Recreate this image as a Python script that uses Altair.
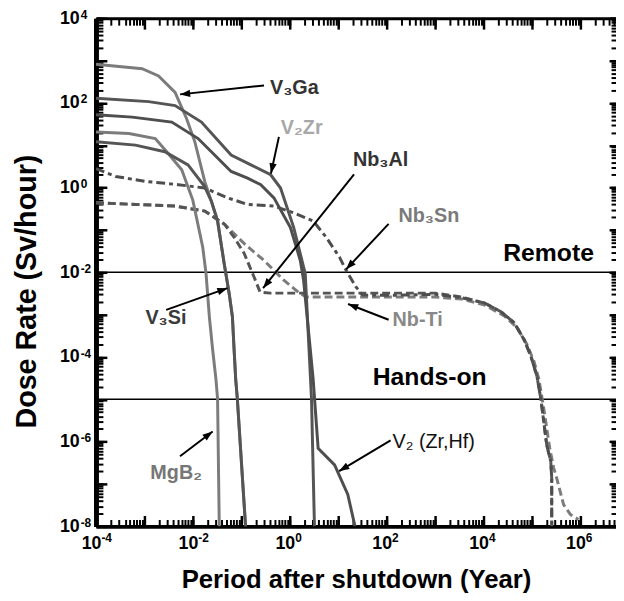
import altair as alt
import pandas as pd
import numpy as np

# ---------------- data (log10 exponents) ----------------
v3ga_x = [-4.0, -3.047, -2.708, -2.367, -2.129, -1.959, -1.755, -1.619, -1.490, -1.353, -1.251, -1.184, -1.149, -1.116, -1.082, -0.912]
v3ga_y = [2.914, 2.809, 2.639, 2.249, 1.626, 1.082, 0.148, -0.319, -0.786, -1.797, -2.498, -3.044, -3.822, -4.522, -4.989, -8.0]

v3si_x = [-4.0, -3.184, -2.580, -2.100, -1.760, -1.619, -1.490, -1.353, -1.251, -1.184, -1.149, -1.116, -1.082, -0.912]
v3si_y = [1.082, 1.004, 0.848, 0.537, 0.030, -0.319, -0.786, -1.797, -2.498, -3.044, -3.822, -4.522, -4.989, -8.0]

mgb2_x = [-4.0, -3.320, -2.776, -2.540, -2.230, -2.000, -1.796, -1.728, -1.660, -1.592, -1.524, -1.490, -1.455]
mgb2_y = [1.315, 1.276, 1.159, 0.848, 0.420, -0.300, -1.409, -2.031, -3.044, -3.822, -4.522, -4.989, -8.0]

v2zr_x = [-4.0, -2.912, -2.367, -1.823, -1.210, -0.802, -0.394, -0.190, 0.082, 0.218, 0.320, 0.449, 0.510]
v2zr_y = [2.109, 2.031, 1.938, 1.548, 0.771, 0.537, 0.304, -0.009, -0.943, -1.564, -2.031, -4.989, -8.0]

v2zrhf_x = [-4.0, -3.252, -2.435, -1.892, -1.551, -1.210, -0.871, -0.598, -0.327, 0.014, 0.218, 0.286, 0.483, 0.586, 0.925, 1.198, 1.347]
v2zrhf_y = [1.719, 1.665, 1.548, 1.159, 0.771, 0.381, 0.225, 0.070, -0.242, -0.943, -1.720, -2.187, -4.522, -6.157, -6.546, -7.247, -8.0]

nb3sn_x = [-4.0, -3.592, -2.980, -2.300, -1.755, -1.279, -0.871, -0.327, 0.075, 0.483, 0.755, 1.027, 1.163, 1.367, 1.503, 2.200, 3.000, 3.551, 4.020, 4.367, 4.633, 4.837, 4.980, 5.102, 5.184, 5.306, 5.388, 5.408, 5.408]
nb3sn_y = [0.451, 0.264, 0.148, 0.070, -0.009, -0.242, -0.397, -0.436, -0.593, -0.786, -1.176, -1.643, -1.954, -2.344, -2.538, -2.540, -2.520, -2.600, -2.724, -2.934, -3.191, -3.588, -3.985, -4.452, -4.989, -6.086, -6.460, -6.857, -8.0]

nb3al_x = [-4.0, -3.184, -2.367, -1.755, -1.347, -1.143, -0.939, -0.735, -0.612, -0.400, 3.000, 3.551, 4.020, 4.367, 4.633, 4.837, 4.980, 5.102, 5.184, 5.306, 5.388, 5.408, 5.408]
nb3al_y = [-0.359, -0.397, -0.436, -0.553, -0.864, -1.183, -1.557, -2.117, -2.467, -2.491, -2.491, -2.584, -2.724, -2.934, -3.191, -3.588, -3.985, -4.452, -4.989, -6.086, -6.460, -6.857, -8.0]

nbti_x = [-4.0, -3.184, -2.367, -1.755, -1.347, -0.939, -0.531, -0.122, 0.204, 0.347, 3.000, 3.551, 4.020, 4.429, 4.694, 4.898, 5.041, 5.143, 5.245, 5.367, 5.449, 5.510, 5.653, 5.796, 5.959]
nbti_y = [-0.359, -0.397, -0.436, -0.553, -0.864, -1.323, -1.720, -2.187, -2.491, -2.584, -2.584, -2.631, -2.771, -3.028, -3.308, -3.705, -4.102, -4.522, -5.222, -6.157, -6.623, -6.857, -7.487, -7.721, -7.838]

solid_names = ["V3Ga", "V2Zr", "V2ZrHf", "MgB2", "V3Si"]
solid_colors = ["#3c3c3c", "#a3a3a3", "#1c1c1c", "#6e6e6e", "#101010"]
dashed_names = ["NbTi", "Nb3Al", "Nb3Sn"]
dashed_colors = ["#7c7c7c", "#555555", "#4e4e4e"]
dashed_patterns = [[8, 4], [8, 4], [9, 4, 4, 4]]

# reference levels
level_names = ["Remote", "Hands-on"]
level_exps = [-2, -5]

# species annotations (bold): text, x exponent, y exponent, colour
ann_text = ["V\u2083Ga", "V\u2082Zr", "Nb\u2083Al", "Nb\u2083Sn", "Nb-Ti", "V\u2083Si", "MgB\u2082"]
ann_x = [-0.408, -0.184, 1.306, 2.245, 2.122, -2.980, -2.878]
ann_y = [2.342, 1.408, 0.661, -0.670, -3.121, -3.074, -6.740]
ann_color = ["#333333", "#a8a8a8", "#333333", "#7a7a7a", "#888888", "#3a3a3a", "#777777"]

# V2(Zr,Hf) annotation (regular weight)
hf_text = ["V\u2082 (Zr,Hf)"]
hf_x = [2.122]
hf_y = [-6.016]

# zone labels
zone_text = ["Remote", "Hands-on"]
zone_x = [4.408, 1.714]
zone_y = [-1.534, -4.475]

# arrows: tail (x, y) -> head (x, y), log10 exponents
arr_tx = [-0.531, -0.224, 1.327, 2.041, 2.041, -2.551, -2.265, 2.082]
arr_ty = [2.412, 1.198, 0.311, -0.856, -3.121, -2.888, -6.343, -5.970]
arr_hx = [-2.265, -0.388, -0.551, 1.163, 1.204, -1.286, -1.592, 1.020]
arr_hy = [2.202, 0.334, -2.374, -1.930, -2.748, -2.374, -5.760, -6.693]

# tick labels: base "10" plus exponent
x_label_exps = [-4, -2, 0, 2, 4, 6]
x_exp_text = ["-4", "-2", "0", "2", "4", "6"]
y_label_exps = [-8, -6, -4, -2, 0, 2, 4]
y_exp_text = ["-8", "-6", "-4", "-2", "0", "2", "4"]

# ---------------- layout ----------------
W, H = 526, 514
X_LO, X_HI = -4.0, 6.735
Y_LO, Y_HI = -8.0, 4.0
FONT = "Liberation Sans"

xscale = alt.Scale(type="log", domain=[10 ** X_LO, 10 ** X_HI], nice=False)
yscale = alt.Scale(type="log", domain=[10 ** Y_LO, 10 ** Y_HI], nice=False)

x_decades = [10.0 ** e for e in range(-4, 7)]
y_decades = [10.0 ** e for e in range(-8, 5)]

def exp_expr(texts, first):
    arr = "[" + ",".join("'%s'" % t for t in texts) + "]"
    return arr + "[round(log(datum.value)/LN10/2)-(%d)]" % (first // 2)

# ---------------- frames ----------------
def build(names, series):
    rows = []
    for n in names:
        xs_, ys_ = series[n]
        for i, (a, b) in enumerate(zip(xs_, ys_)):
            rows.append({"series": n, "x": 10.0 ** a, "y": 10.0 ** b, "i": i})
    return pd.DataFrame(rows)

def pts(t, xe, ye, **extra):
    d = {"t": t, "x": [10.0 ** v for v in xe], "y": [10.0 ** v for v in ye]}
    d.update(extra)
    return pd.DataFrame(d)

series = {
    "V3Ga": (v3ga_x, v3ga_y), "V2Zr": (v2zr_x, v2zr_y), "V2ZrHf": (v2zrhf_x, v2zrhf_y),
    "MgB2": (mgb2_x, mgb2_y), "V3Si": (v3si_x, v3si_y),
    "NbTi": (nbti_x, nbti_y), "Nb3Al": (nb3al_x, nb3al_y), "Nb3Sn": (nb3sn_x, nb3sn_y),
}
df_solid = build(solid_names, series)
df_dash = build(dashed_names, series)
df_lvl = pd.DataFrame({"name": level_names, "y": [10.0 ** e for e in level_exps]})
df_ann = pts(ann_text, ann_x, ann_y, c=ann_color)
df_hf = pts(hf_text, hf_x, hf_y)
df_zone = pts(zone_text, zone_x, zone_y)

px_x = W / (X_HI - X_LO)
px_y = H / (Y_HI - Y_LO)
angs = []
for tx, ty, hx, hy in zip(arr_tx, arr_ty, arr_hx, arr_hy):
    dx = (hx - tx) * px_x
    dy = -(hy - ty) * px_y
    angs.append(float(np.degrees(np.arctan2(dx, -dy)) % 360))
df_arr = pd.DataFrame({"x": [10.0 ** v for v in arr_tx], "y": [10.0 ** v for v in arr_ty],
                       "x2": [10.0 ** v for v in arr_hx], "y2": [10.0 ** v for v in arr_hy], "ang": angs})

# ---------------- axes ----------------
common_tick = dict(labels=False, domain=False, title=None, grid=False, tickColor="black")
lab_common = dict(ticks=False, grid=False, labelFont=FONT, labelFontWeight="bold", labelColor="black",
                  labelFlush=False, labelOverlap=False, labelBound=False)
ax_x_lab = alt.Axis(orient="bottom", values=[10.0 ** e for e in x_label_exps], labelExpr="'10'",
                    domain=True, domainWidth=4, domainColor="black",
                    labelFontSize=18, labelAlign="left", labelOffset=-15, labelPadding=8,
                    labelBaseline="top",
                    title="Period after shutdown (Year)", titleFont=FONT, titleFontSize=26,
                    titleFontWeight="bold", titleColor="black", titlePadding=15, **lab_common)
ax_x_exp = alt.Axis(orient="bottom", values=[10.0 ** e for e in x_label_exps],
                    labelExpr=exp_expr(x_exp_text, x_label_exps[0]), domain=False, title=None,
                    labelFontSize=12, labelAlign="left", labelOffset=5, labelPadding=6,
                    labelBaseline="top", **lab_common)
ax_y_lab = alt.Axis(orient="left", values=[10.0 ** e for e in y_label_exps], labelExpr="'10'",
                    domain=True, domainWidth=5, domainColor="black",
                    labelFontSize=18, labelAlign="left", labelPadding=37, labelBaseline="middle",
                    title="Dose Rate (Sv/hour)", titleFont=FONT, titleFontSize=29,
                    titleFontWeight="bold", titleColor="black", titleAngle=270,
                    titleAlign="center", titleBaseline="bottom", titleX=-55, titleY=276,
                    **lab_common)
ax_y_exp = alt.Axis(orient="left", values=[10.0 ** e for e in y_label_exps],
                    labelExpr=exp_expr(y_exp_text, y_label_exps[0]), domain=False, title=None,
                    labelFontSize=12, labelAlign="left", labelPadding=16, labelBaseline="top",
                    labelOffset=-9, **lab_common)
TC = 30
MIN_T, MAJ_T = 7, 11
ax_x_min_b = alt.Axis(orient="top", offset=-H, tickCount=TC, tickSize=MIN_T, tickWidth=2, **common_tick)
ax_x_maj_b = alt.Axis(orient="top", offset=-H, values=x_decades, tickSize=MAJ_T, tickWidth=2.5, **common_tick)
ax_x_min_t = alt.Axis(orient="bottom", offset=-H, tickCount=TC, tickSize=MIN_T, tickWidth=2,
                      labels=False, domain=True, domainWidth=3, domainColor="black", title=None,
                      grid=False, tickColor="black")
ax_x_maj_t = alt.Axis(orient="bottom", offset=-H, values=x_decades, tickSize=MAJ_T, tickWidth=2.5, **common_tick)
ax_y_min_l = alt.Axis(orient="right", offset=-W, tickCount=TC, tickSize=MIN_T, tickWidth=2, **common_tick)
ax_y_maj_l = alt.Axis(orient="right", offset=-W, values=y_decades, tickSize=MAJ_T, tickWidth=2.5, **common_tick)
ax_y_min_r = alt.Axis(orient="left", offset=-W, tickCount=TC, tickSize=5, tickWidth=2, **common_tick)
ax_y_maj_r = alt.Axis(orient="left", offset=-W, values=y_decades, tickSize=7, tickWidth=2.5, **common_tick)

# ---------------- layers ----------------
levels = alt.Chart(df_lvl).mark_rule(color="black", strokeWidth=1.5).encode(
    y=alt.Y("y:Q", scale=yscale, axis=None))

dashed = alt.Chart(df_dash).mark_line(strokeWidth=3, clip=True).encode(
    x=alt.X("x:Q", scale=xscale, axis=ax_x_min_b),
    y=alt.Y("y:Q", scale=yscale, axis=ax_y_min_l),
    color=alt.Color("series:N", scale=alt.Scale(domain=dashed_names, range=dashed_colors), legend=None),
    strokeDash=alt.StrokeDash("series:N", scale=alt.Scale(domain=dashed_names, range=dashed_patterns), legend=None),
    order="i:Q")

solid = alt.Chart(df_solid).mark_line(strokeWidth=3, clip=True).encode(
    x=alt.X("x:Q", scale=xscale, axis=ax_x_lab),
    y=alt.Y("y:Q", scale=yscale, axis=ax_y_lab),
    color=alt.Color("series:N", scale=alt.Scale(domain=solid_names, range=solid_colors), legend=None),
    order="i:Q")

arrows = alt.Chart(df_arr).mark_rule(color="black", strokeWidth=2).encode(
    x=alt.X("x:Q", scale=xscale, axis=ax_x_maj_b),
    y=alt.Y("y:Q", scale=yscale, axis=ax_y_maj_l),
    x2="x2:Q", y2="y2:Q")

heads = alt.Chart(df_arr).mark_point(
    shape="M0,0 L-0.36,1 L0.36,1 Z", filled=True, size=420, color="black", opacity=1, strokeWidth=0).encode(
    x=alt.X("x2:Q", scale=xscale, axis=ax_x_min_t),
    y=alt.Y("y2:Q", scale=yscale, axis=ax_y_min_r),
    angle=alt.Angle("ang:Q", scale=None))

texts = alt.Chart(df_ann).mark_text(font=FONT, fontWeight="bold", fontSize=20, align="left",
                                    baseline="middle").encode(
    x=alt.X("x:Q", scale=xscale, axis=ax_x_maj_t),
    y=alt.Y("y:Q", scale=yscale, axis=ax_y_maj_r),
    text="t:N",
    color=alt.Color("c:N", scale=None))

hf = alt.Chart(df_hf).mark_text(font=FONT, fontWeight="normal", fontSize=20, align="left",
                                baseline="middle", color="#111111").encode(
    x=alt.X("x:Q", scale=xscale, axis=None),
    y=alt.Y("y:Q", scale=yscale, axis=None),
    text="t:N")

zones = alt.Chart(df_zone).mark_text(font=FONT, fontWeight="bold", align="left", baseline="middle",
                                     fontSize=25, color="black").encode(
    x=alt.X("x:Q", scale=xscale, axis=ax_x_exp),
    y=alt.Y("y:Q", scale=yscale, axis=ax_y_exp),
    text="t:N")

chart = alt.layer(levels, dashed, solid, arrows, heads, texts, hf, zones).resolve_axis(
    x="independent", y="independent"
).properties(
    width=W, height=H,
    autosize=alt.AutoSizeParams(type="none"),
    padding={"left": 89, "top": 7, "right": 0, "bottom": 64},
    background="white",
).configure_view(stroke=None)

chart.save("out.html", embed_options={"renderer": "svg", "actions": False})
